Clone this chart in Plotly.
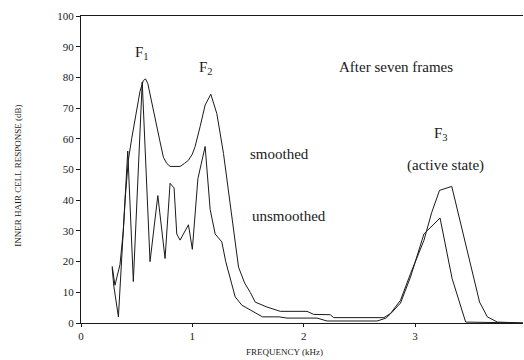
import plotly.graph_objects as go

# Smoothed response (kHz, dB)
smoothed_x = [0.28, 0.305, 0.35, 0.38, 0.40, 0.425, 0.455, 0.49, 0.53, 0.56, 0.58, 0.60, 0.636, 0.67,
              0.71, 0.74, 0.77, 0.80, 0.85, 0.89, 0.93, 0.965, 1.0, 1.025, 1.07, 1.115, 1.166, 1.22,
              1.28, 1.34, 1.415, 1.47, 1.52, 1.565, 1.67, 1.79, 2.03, 2.09, 2.24, 2.27, 2.72, 2.78,
              2.87, 2.96, 3.08, 3.15, 3.22, 3.33, 3.58, 3.65, 3.74, 3.97]
smoothed_y = [18.5, 12.3, 19, 30, 42, 53, 60, 67, 75.5, 79, 79.5, 78, 71.5, 65,
              59, 54, 52, 51, 51, 51, 52, 53, 55, 57.5, 64, 71, 74.5, 68.2,
              55.2, 39, 18.2, 13, 10, 6.8, 5.2, 3.8, 3.8, 2.8, 2.7, 1.75, 1.75, 3.1,
              7.4, 16.1, 26.9, 36, 43.2, 44.5, 6.8, 2, 0.3, 0]

# Unsmoothed response (kHz, dB)
unsmoothed_x = [0.28, 0.295, 0.336, 0.42, 0.47, 0.55, 0.62, 0.69, 0.755, 0.80, 0.836, 0.86, 0.89,
                0.965, 1.0, 1.05, 1.115, 1.16, 1.205, 1.265, 1.30, 1.385, 1.445, 1.59, 1.63, 1.78,
                1.85, 2.12, 2.21, 2.66, 2.74, 2.78, 2.87, 2.96, 3.08, 3.225, 3.333, 3.455, 3.97]
unsmoothed_y = [18, 12, 2, 56, 13.5, 78.5, 20, 41.5, 21, 45.5, 44, 29, 27,
                32, 24, 47, 57.5, 37, 29, 26.4, 20, 8.5, 5.8, 3, 2, 2,
                1.6, 1.6, 0.65, 0.65, 1.6, 3, 6.5, 15, 29, 34.2, 14.5, 0.3, 0]

y_ticks = [0, 10, 20, 30, 40, 50, 60, 70, 80, 90, 100]
x_ticks = [0, 1, 2, 3]

SERIF = "Liberation Serif"
INK = "#1a1a1a"

fig = go.Figure()
fig.add_trace(go.Scatter(x=smoothed_x, y=smoothed_y, mode="lines",
                         line=dict(color=INK, width=1), name="smoothed", hoverinfo="skip"))
fig.add_trace(go.Scatter(x=unsmoothed_x, y=unsmoothed_y, mode="lines",
                         line=dict(color=INK, width=1), name="unsmoothed", hoverinfo="skip"))

labels = [
    (0.549, 87.8, "F<sub>1</sub>", "center"),
    (1.124, 83.0, "F<sub>2</sub>", "center"),
    (2.833, 83.3, "After seven frames", "center"),
    (1.50, 55.0, "smoothed", "left"),
    (1.52, 34.8, "unsmoothed", "left"),
    (3.237, 61.5, "F<sub>3</sub>", "center"),
    (3.273, 51.4, "(active state)", "center"),
]
for x, y, t, anc in labels:
    fig.add_annotation(x=x, y=y, text=t, showarrow=False, xanchor=anc, yanchor="middle",
                       font=dict(family=SERIF, size=15, color=INK))

fig.add_annotation(xref="paper", yref="paper", x=0, y=0.48, xshift=-63, textangle=-90,
                   text="INNER HAIR CELL RESPONSE (dB)", showarrow=False,
                   xanchor="center", yanchor="middle",
                   font=dict(family=SERIF, size=9, color=INK))
fig.add_annotation(xref="paper", yref="paper", x=0.4615, y=-0.0954,
                   text="FREQUENCY (kHz)", showarrow=False,
                   xanchor="center", yanchor="middle",
                   font=dict(family=SERIF, size=9, color=INK))

fig.update_layout(
    width=524, height=360,
    margin=dict(l=81, r=1, t=16, b=37),
    paper_bgcolor="white", plot_bgcolor="white",
    showlegend=False,
    font=dict(family=SERIF, color=INK),
    xaxis=dict(range=[0, 3.97], tickvals=x_ticks, ticktext=[str(v) for v in x_ticks],
               showgrid=False, zeroline=False, showline=True, linecolor=INK, linewidth=1,
               mirror=True, ticks="outside", ticklen=3, tickcolor=INK,
               tickfont=dict(family=SERIF, size=11, color=INK)),
    yaxis=dict(range=[0, 100], tickvals=y_ticks, ticktext=[str(v) for v in y_ticks],
               showgrid=False, zeroline=False, showline=True, linecolor=INK, linewidth=1,
               ticks="outside", ticklen=4, tickcolor=INK,
               tickfont=dict(family=SERIF, size=11, color=INK)),
)

fig.write_html("out.html")
